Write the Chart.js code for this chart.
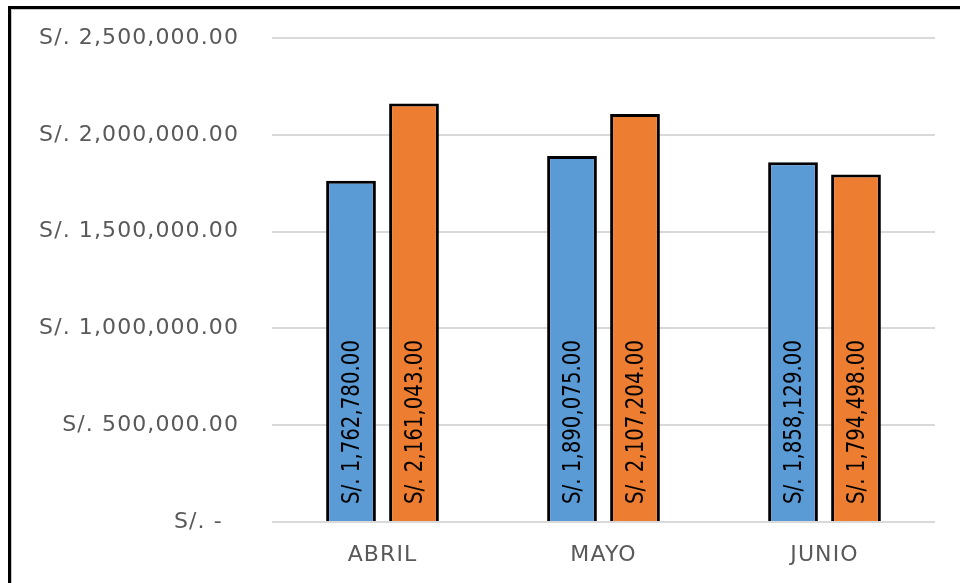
<!DOCTYPE html>
<html>
<head>
<meta charset="utf-8">
<script src="https://cdn.jsdelivr.net/npm/chart.js@4.4.1/dist/chart.umd.min.js"></script>
<style>
    body { margin: 0; background: #fff; }
    #wrap { position: relative; width: 960px; height: 583px; }
    #frame {
        position: absolute; left: 8px; top: 6px; right: -4px; bottom: -4px;
        border-top: 3px solid #000; border-left: 3px solid #000;
        box-shadow: inset 1px 1px 0 #c8c8c8;
        pointer-events: none;
    }
</style>
</head>
<body>
<div id="wrap">
    <canvas id="barChart" width="960" height="583"></canvas>
    <div id="frame"></div>
</div>
<script>
// ================= DATA =================
let months = ["ABRIL", "MAYO", "JUNIO"];
let serieA = [1762780, 1890075, 1858129];
let serieB = [2161043, 2107204, 1794498];
let yTicks = [0, 500000, 1000000, 1500000, 2000000, 2500000];

// ================= FORMAT =================
function soles(v) {
    if (v === 0) return "S/. -  ";
    let parts = v.toFixed(2).split(".");
    let ints = parts[0].replace(/\B(?=(\d{3})+(?!\d))/g, ",");
    return "S/. " + ints + "." + parts[1];
}

// axis text is drawn a little wider than the font's normal spacing
let wideText = {
    id: "wideText",
    beforeDraw(chart) { chart.ctx.letterSpacing = "1.1px"; },
    afterDraw(chart) { chart.ctx.letterSpacing = "0px"; }
};

// value labels written vertically inside each bar
let barLabels = {
    id: "barLabels",
    afterDatasetsDraw(chart) {
        let ctx = chart.ctx;
        chart.data.datasets.forEach((ds, i) => {
            chart.getDatasetMeta(i).data.forEach((bar, j) => {
                ctx.save();
                ctx.letterSpacing = "0px";
                ctx.translate(bar.x, bar.base - 17);
                ctx.rotate(-Math.PI / 2);
                ctx.scale(1, 1.15);
                ctx.font = '22px "DejaVu Sans Condensed", sans-serif';
                ctx.fillStyle = "#000";
                ctx.textAlign = "left";
                ctx.textBaseline = "middle";
                ctx.fillText(soles(ds.data[j]), 0, 1);
                ctx.restore();
            });
        });
    }
};

// ================= CHART =================
new Chart(document.getElementById("barChart"), {
    type: "bar",
    data: {
        labels: months,
        datasets: [{
            data: serieA,
            backgroundColor: "#5B9BD5",
            borderColor: "#000",
            borderWidth: 3
        }, {
            data: serieB,
            backgroundColor: "#ED7D31",
            borderColor: "#000",
            borderWidth: 3
        }]
    },
    options: {
        responsive: false,
        animation: false,
        layout: { padding: { top: 0, right: 25, left: 0, bottom: 0 } },
        categoryPercentage: 0.57,
        barPercentage: 0.79,
        plugins: {
            legend: { display: false },
            tooltip: { enabled: false }
        },
        scales: {
            x: {
                grid: { display: false },
                border: { display: false },
                ticks: {
                    color: "#595959",
                    font: { family: "DejaVu Sans", size: 22 },
                    padding: 12
                },
                afterFit(scale) { scale.height = 61; }
            },
            y: {
                min: 0,
                max: 2500000,
                afterBuildTicks(scale) {
                    scale.ticks = yTicks.map(v => ({ value: v }));
                },
                grid: { color: "#d9d9d9", lineWidth: 2, drawTicks: false },
                border: { display: false },
                ticks: {
                    color: "#595959",
                    font: { family: "DejaVu Sans", size: 22 },
                    padding: 33,
                    callback: v => soles(v)
                },
                afterFit(scale) {
                    scale.width = 272;
                    scale.paddingTop = 38;
                }
            }
        }
    },
    plugins: [wideText, barLabels]
});
</script>
</body>
</html>
